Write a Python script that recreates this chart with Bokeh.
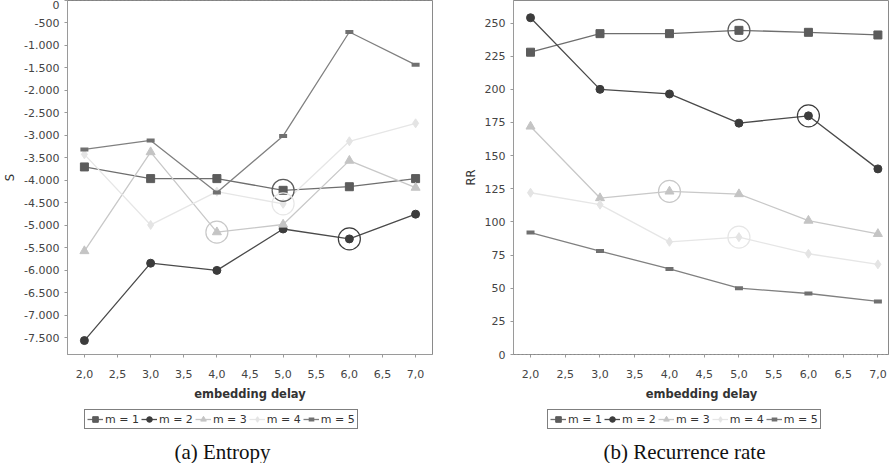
from bokeh.plotting import figure
from bokeh.layouts import row, column
from bokeh.models import (Range1d, FixedTicker, CustomJSTickFormatter, Legend, LegendItem,
                          Label, Span)
from bokeh.embed import file_html
from bokeh.resources import INLINE

delays = [2, 3, 4, 5, 6, 7]
labels = ["m = 1", "m = 2", "m = 3", "m = 4", "m = 5"]

entropy_m1 = [-3700, -3960, -3960, -4220, -4140, -3960]
entropy_m2 = [-7560, -5840, -6000, -5080, -5300, -4750]
entropy_m3 = [-5570, -3370, -5150, -4980, -3560, -4160]
entropy_m4 = [-3420, -4990, -4250, -4520, -3130, -2730]
entropy_m5 = [-3310, -3110, -4270, -3010, -700, -1430]

rr_m1 = [228, 242, 242, 244.5, 243, 241]
rr_m2 = [254, 200, 196.5, 174.5, 180, 140]
rr_m3 = [172, 118, 123, 121, 101, 91]
rr_m4 = [122, 113, 85, 88.5, 76, 68]
rr_m5 = [92, 78, 64.5, 50, 46, 40]

# highlighted (circled) points: series index, delay
entropy_marks = [(0, 5), (1, 6), (2, 4), (3, 5)]
rr_marks = [(0, 5), (1, 6), (2, 4), (3, 5)]

colors = ["#5c5c5c", "#3c3c3c", "#c4c4c4", "#e4e4e4", "#707070"]
line_colors = ["#6e6e6e", "#4a4a4a", "#c8c8c8", "#e6e6e6", "#808080"]

FONT = "DejaVu Sans"

x_fmt = CustomJSTickFormatter(code="return tick.toFixed(1).replace('.', ',');")
y_fmt = CustomJSTickFormatter(
    code="return Math.round(tick).toString().replace(/\\B(?=(\\d{3})+(?!\\d))/g, '.');")


def add_series(p, xs, series):
    rends = []
    for i, ys in enumerate(series):
        r_line = p.line(xs, ys, line_color=line_colors[i], line_width=1.3)
        if i == 0:
            r_mark = p.scatter(xs, ys, marker="square", size=8, fill_color=colors[i],
                               line_color=colors[i])
        elif i == 1:
            r_mark = p.scatter(xs, ys, marker="circle", size=8, fill_color=colors[i],
                               line_color=colors[i])
        elif i == 2:
            r_mark = p.scatter(xs, ys, marker="triangle", size=9, fill_color=colors[i],
                               line_color=colors[i])
        elif i == 3:
            r_mark = p.scatter(xs, ys, marker="diamond", size=9, fill_color=colors[i],
                               line_color=colors[i])
        else:
            r_mark = p.scatter(xs, ys, marker="dash", size=8, line_width=4,
                               line_color=colors[i], line_cap="butt")
        rends.append([r_line, r_mark])
    return rends


def make_plot(series, marks, y_range, y_ticks, y_label, x_range,
              min_left, min_right, frame_w):
    p = figure(output_backend="svg", toolbar_location=None,
               frame_width=frame_w, frame_height=354,
               min_border_left=min_left, min_border_right=min_right,
               min_border_top=0, min_border_bottom=44,
               x_range=Range1d(*x_range), y_range=Range1d(*y_range))
    p.xgrid.visible = False
    p.ygrid.visible = False
    p.outline_line_color = "#8a8a8a"
    p.outline_line_width = 1
    p.background_fill_color = "white"
    p.border_fill_color = "white"

    for ax in (p.xaxis[0], p.yaxis[0]):
        ax.axis_line_color = "#9a9a9a"
        ax.major_tick_line_color = "#9a9a9a"
        ax.major_tick_out = 3
        ax.major_tick_in = 0
        ax.minor_tick_line_color = None
        ax.major_label_text_font = FONT
        ax.major_label_text_font_size = "11px"
        ax.major_label_text_color = "#444444"
        ax.axis_label_text_font = FONT
        ax.axis_label_text_font_size = "11.5px"
        ax.axis_label_text_color = "#333333"

    p.xaxis.ticker = FixedTicker(ticks=[2.0, 2.5, 3.0, 3.5, 4.0, 4.5, 5.0, 5.5, 6.0, 6.5, 7.0])
    p.xaxis.formatter = x_fmt
    p.xaxis.axis_label = "embedding delay"
    p.xaxis.axis_label_text_font_style = "bold"
    p.xaxis.major_label_standoff = 12
    p.xaxis.axis_label_standoff = 6
    p.yaxis.ticker = FixedTicker(ticks=y_ticks)
    p.yaxis.formatter = y_fmt
    p.yaxis.axis_label = y_label
    p.yaxis.axis_label_text_font_style = "normal"
    p.yaxis.axis_label_standoff = 4

    p.add_layout(Span(location=0, dimension="width", line_color="#777777",
                      line_width=1, line_dash="2 2"))

    add_series(p, delays, series)

    for si, d in marks:
        yv = series[si][delays.index(d)]
        p.scatter([d], [yv], marker="circle", size=22, fill_color=None,
                  line_color=colors[si] if si < 2 else line_colors[si], line_width=1.2)
    return p


def make_legend(width, legend_x):
    lp = figure(output_backend="svg", toolbar_location=None, width=width, height=28,
                x_range=Range1d(0, 1), y_range=Range1d(0, 1),
                x_axis_location=None, y_axis_location=None,
                min_border=0, outline_line_color=None)
    lp.xgrid.visible = False
    lp.ygrid.visible = False
    # off-range placeholder renderers, only used to draw the legend glyphs
    rends = add_series(lp, [-5.0], [[-5.0]] * 5)
    items = [LegendItem(label=labels[i], renderers=rends[i]) for i in range(5)]
    legend = Legend(items=items, orientation="horizontal", location=(legend_x, 2),
                    border_line_color="black", border_line_width=1,
                    background_fill_color="white", background_fill_alpha=1.0,
                    label_text_font=FONT, label_text_font_size="11px",
                    label_text_color="#333333", padding=2, spacing=2,
                    label_standoff=2, glyph_width=16, glyph_height=14,
                    label_height=14, margin=0)
    lp.add_layout(legend, "center")
    return lp


def make_caption(width, text, cx):
    cp = figure(output_backend="svg", toolbar_location=None, width=width, height=32,
                x_range=Range1d(0, 1), y_range=Range1d(0, 1),
                x_axis_location=None, y_axis_location=None,
                min_border=0, outline_line_color=None)
    cp.xgrid.visible = False
    cp.ygrid.visible = False
    cp.add_layout(Label(x=cx, y=12, x_units="screen", y_units="screen",
                        text=text, text_align="center", text_baseline="middle",
                        text_font="Liberation Serif", text_font_size="21px",
                        text_color="#111111"))
    return cp


p1 = make_plot([entropy_m1, entropy_m2, entropy_m3, entropy_m4, entropy_m5], entropy_marks,
               (-7870, 0), list(range(-7500, 1, 500)), "S", (1.745, 7.255),
               65, 12, 365)
p2 = make_plot([rr_m1, rr_m2, rr_m3, rr_m4, rr_m5], rr_marks,
               (0, 267), list(range(0, 251, 25)), "RR", (1.755, 7.167),
               69, 0, 376)

col1 = column(p1, make_legend(442, 17), make_caption(442, "(a) Entropy", 155), spacing=0)
col2 = column(p2, make_legend(445, 34), make_caption(445, "(b) Recurrence rate", 171), spacing=0)

layout = row(col1, col2, spacing=0)
open("out.html", "w").write(file_html(layout, INLINE))
